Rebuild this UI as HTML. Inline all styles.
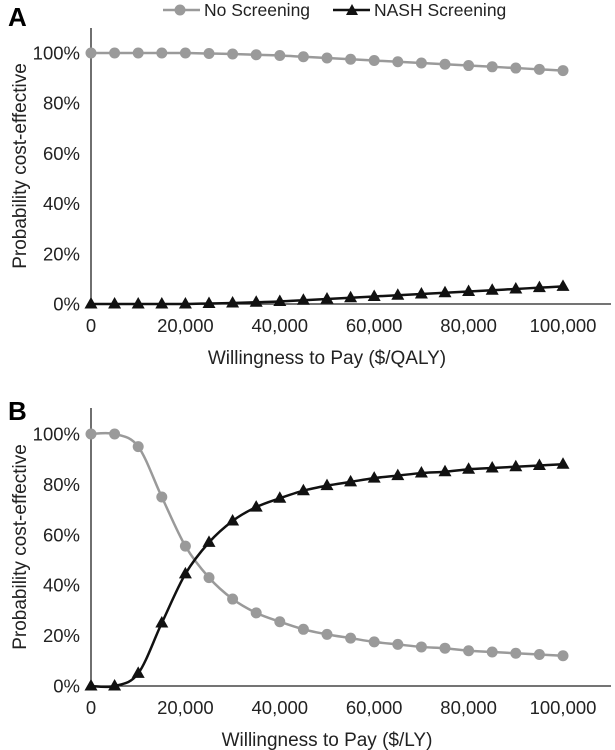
<!DOCTYPE html>
<html><head><meta charset="utf-8"><style>body{margin:0;background:#fff}svg{display:block;font-family:"Liberation Sans",sans-serif}</style></head>
<body>
<svg id="c" width="615" height="750" viewBox="0 0 615 750">
<g>
<g><line x1="163" y1="10" x2="200" y2="10" stroke="#9a9a9a" stroke-width="2.5"/><circle cx="180" cy="10" r="5.5" fill="#9a9a9a"/><text x="204" y="16" font-size="17.5" fill="#222">No Screening</text></g>
<g><line x1="333" y1="10" x2="370" y2="10" stroke="#111" stroke-width="2.5"/><polygon points="352,4 358,15 346,15" fill="#111"/><text x="374" y="16" font-size="17.5" fill="#222">NASH Screening</text></g>
</g>
<text x="8" y="26" font-size="26" font-weight="bold">A</text>
<text x="8" y="420" font-size="26" font-weight="bold">B</text>
</svg>
<script>
const xVals=[0,5000,10000,15000,20000,25000,30000,35000,40000,45000,50000,55000,60000,65000,70000,75000,80000,85000,90000,95000,100000];
const xTicks=[0,20000,40000,60000,80000,100000];
const yTicks=[0,20,40,60,80,100];
const aNoScreen=[100,100,100,100,100,99.8,99.6,99.3,99,98.5,98,97.5,97,96.5,96,95.5,95,94.5,94,93.5,93];
const aNash=[0,0,0,0,0,0.2,0.4,0.7,1,1.5,2,2.5,3,3.5,4,4.5,5,5.5,6,6.5,7];
const bNoScreen=[100,100,95,75,55.5,43,34.5,29,25.5,22.5,20.5,19,17.5,16.5,15.5,15,14,13.5,13,12.5,12];
const bNash=[0,0,5,25,44.5,57,65.5,71,74.5,77.5,79.5,81,82.5,83.5,84.5,85,86,86.5,87,87.5,88];
const svg=document.getElementById('c');const NS='http://www.w3.org/2000/svg';
function mk(t,a,p){const e=document.createElementNS(NS,t);for(const k in a)e.setAttribute(k,a[k]);(p||svg).appendChild(e);return e;}
function fmt(v){return v.toLocaleString('en-US');}
function smooth(pts){let d='M'+pts[0][0]+','+pts[0][1];for(let i=0;i<pts.length-1;i++){const p0=pts[Math.max(0,i-1)],p1=pts[i],p2=pts[i+1],p3=pts[Math.min(pts.length-1,i+2)];d+=' C'+(p1[0]+(p2[0]-p0[0])/6)+','+(p1[1]+(p2[1]-p0[1])/6)+' '+(p2[0]-(p3[0]-p1[0])/6)+','+(p2[1]-(p3[1]-p1[1])/6)+' '+p2[0]+','+p2[1];}return d;}
function panel(name,y0,y100,top,title,s1,s2){
 const g=mk('g',{});
 
 
 const X=v=>91+v/100000*472, Y=v=>y0+(y100-y0)*v/100;
 const ya=mk('line',{x1:91,y1:top,x2:91,y2:y0,stroke:'#222','stroke-width':1.3},g);
 
 
 const xa=mk('line',{x1:91,y1:y0,x2:611,y2:y0,stroke:'#222','stroke-width':1.3},g);
 
 
 yTicks.forEach(t=>{const e=mk('text',{x:80,y:Y(t)+6.5,'font-size':18.5,'text-anchor':'end',fill:'#222'},g);e.textContent=t+'%';
  
  });
 xTicks.forEach(t=>{const e=mk('text',{x:X(t),y:y0+28,'font-size':18.5,'text-anchor':'middle',fill:'#222'},g);e.textContent=fmt(t);
  
  });
 const xt=mk('text',{x:327,y:y0+60,'font-size':19,'text-anchor':'middle',fill:'#222'},g);xt.textContent=title;
 
 
 const cy=(top+y0)/2;
 const yt=mk('text',{x:0,y:0,'font-size':19,'text-anchor':'middle',fill:'#222',transform:'translate(26,'+cy+') rotate(-90)'},g);yt.textContent='Probability cost-effective';
 
 
 const p1=xVals.map((x,i)=>[X(x),Y(s1[i])]);
 const l1=mk('path',{d:smooth(p1),fill:'none',stroke:'#9a9a9a','stroke-width':2.5},g);
 
 
 p1.forEach(p=>{const c=mk('circle',{cx:p[0],cy:p[1],r:5.5,fill:'#9a9a9a'},g);
  
  });
 const p2=xVals.map((x,i)=>[X(x),Y(s2[i])]);
 const l2=mk('path',{d:smooth(p2),fill:'none',stroke:'#111','stroke-width':2.5},g);
 
 
 p2.forEach(p=>{const t=mk('polygon',{points:(p[0])+','+(p[1]-7)+' '+(p[0]+6.5)+','+(p[1]+4.5)+' '+(p[0]-6.5)+','+(p[1]+4.5),fill:'#111'},g);
  
  });
}
panel('panel-a-chart',304,53,28,'Willingness to Pay ($/QALY)',aNoScreen,aNash);
panel('panel-b-chart',686,434,408,'Willingness to Pay ($/LY)',bNoScreen,bNash);
</script>
</body></html>
